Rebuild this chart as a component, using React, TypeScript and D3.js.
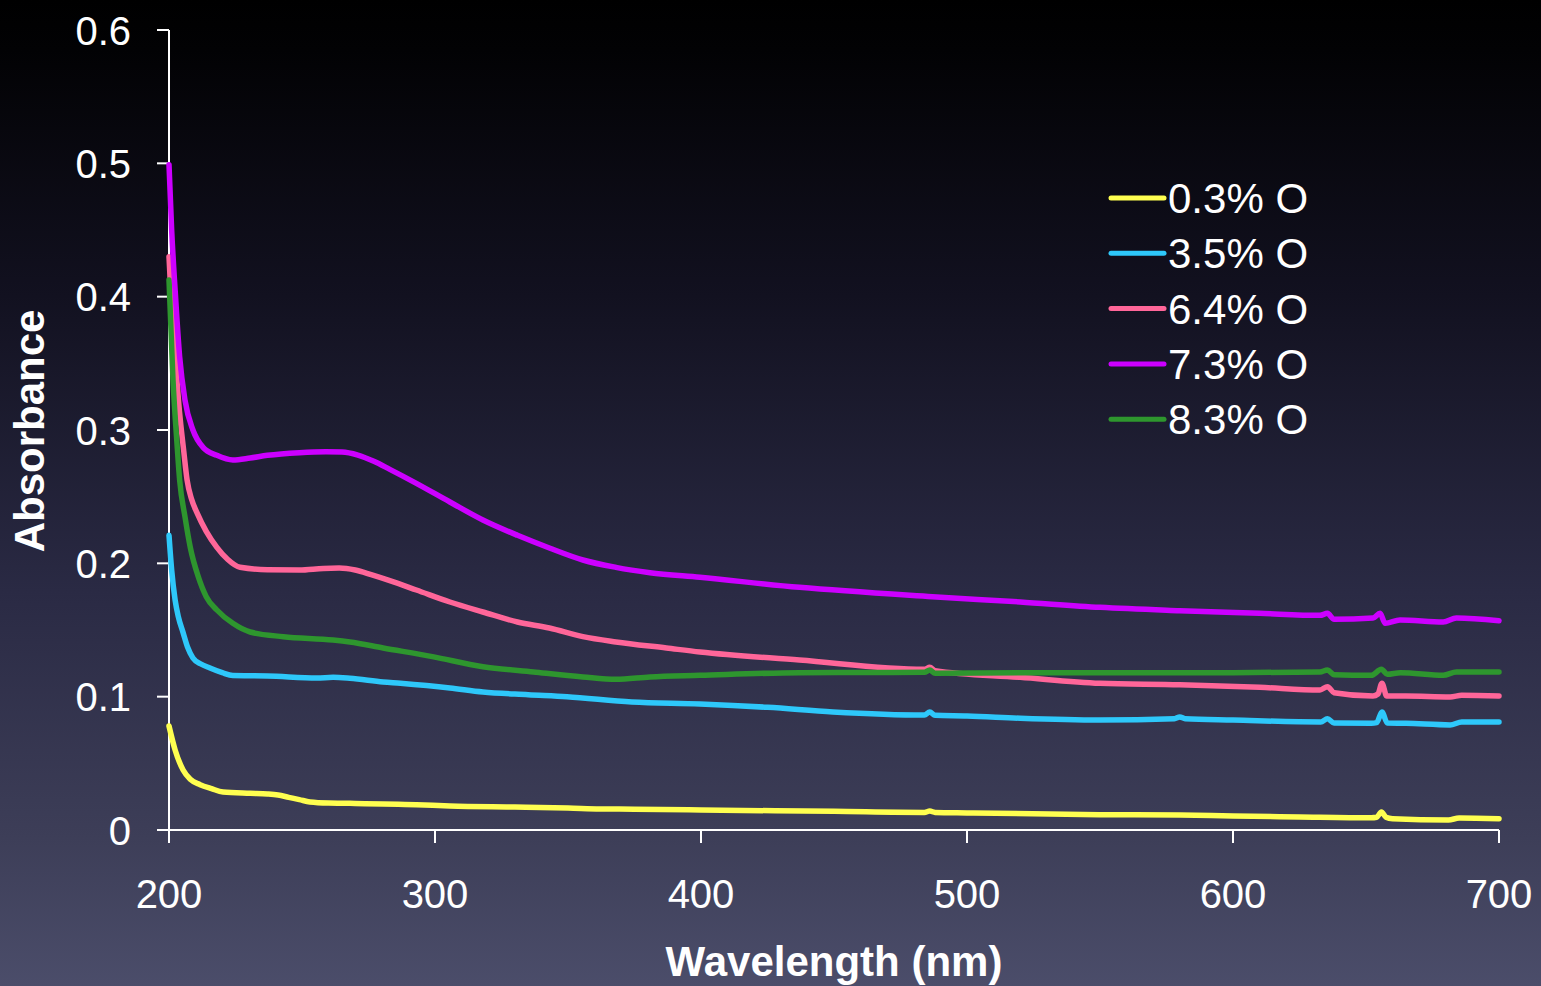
import React from "react";
import * as d3 from "d3";

const xTicks = [200, 300, 400, 500, 600, 700];
const yTicks = [0, 0.1, 0.2, 0.3, 0.4, 0.5, 0.6];
const yTickLabels = ["0", "0.1", "0.2", "0.3", "0.4", "0.5", "0.6"];

const seriesNames = ["0.3% O", "3.5% O", "6.4% O", "7.3% O", "8.3% O"];
const seriesColors = ["#ffff50", "#2ec8fa", "#ff6699", "#cc00ff", "#2e962e"];

// [wavelength nm, absorbance]
const yellow03: [number, number][] = [
  [200, 0.078], [202.3, 0.06], [205.3, 0.045], [208, 0.038], [211.7, 0.034], [216, 0.031], [220.3, 0.0285],
  [230.5, 0.0275], [237, 0.027], [241, 0.0262], [245, 0.0245], [249, 0.0228], [253, 0.021], [260, 0.0202],
  [268, 0.02], [293, 0.019], [305.6, 0.018], [330, 0.0172], [350, 0.0165], [362, 0.0158], [375, 0.0156],
  [400, 0.015], [450, 0.014], [484, 0.0132], [486, 0.0142], [488, 0.0132], [500, 0.0128], [550, 0.0115],
  [580, 0.0112], [600, 0.0105], [625, 0.0098], [652, 0.0092], [654, 0.0096], [655.8, 0.0135],
  [657.5, 0.0096], [660, 0.0085], [681, 0.0075], [685, 0.009], [700, 0.0085],
];

const cyan35: [number, number][] = [
  [200, 0.221], [201, 0.195], [202.3, 0.1725], [203.5, 0.16], [205.3, 0.148], [207, 0.137], [209, 0.129],
  [212, 0.1245], [215.4, 0.1215], [220, 0.118], [224, 0.1158], [237, 0.1155], [255.6, 0.114], [261.7, 0.1145],
  [268, 0.1138], [280.5, 0.111], [287, 0.11], [305.6, 0.1065], [318, 0.1035], [335, 0.1015], [349.6, 0.1],
  [374, 0.096], [399.6, 0.0945], [425, 0.092], [449.6, 0.0885], [484, 0.0862], [486, 0.0885],
  [488, 0.086], [500, 0.0855], [520, 0.0838], [550, 0.0825], [578, 0.0835], [580, 0.0848], [582, 0.0835],
  [600, 0.0825], [633, 0.081], [635.5, 0.0835], [638, 0.0802], [652, 0.08], [654, 0.0805], [656, 0.0885],
  [658, 0.0802], [665, 0.08], [681.6, 0.0788], [686, 0.081], [700, 0.081],
];

const pink64: [number, number][] = [
  [200, 0.43], [201, 0.39], [202.5, 0.35], [204, 0.3125], [205.5, 0.285], [206.8, 0.2625], [208.5, 0.248],
  [210.5, 0.238], [214, 0.224], [218, 0.212], [222, 0.203], [226.7, 0.197], [237, 0.1952], [249, 0.195],
  [258, 0.1962], [264, 0.1965], [270, 0.195], [276, 0.1915], [283, 0.187], [293, 0.18], [305.6, 0.171],
  [318, 0.1635], [331, 0.156], [343, 0.1515], [355.6, 0.145], [368, 0.141], [387, 0.1365], [399.6, 0.1335],
  [437, 0.1275], [484, 0.1205], [486, 0.122], [488, 0.1195], [520, 0.1145], [550, 0.11], [580, 0.109],
  [610, 0.107], [632.7, 0.105], [635.5, 0.1075], [638, 0.103], [652.6, 0.1005], [654.5, 0.102], [656, 0.11],
  [657.8, 0.1005], [665, 0.1005], [681.6, 0.0998], [686, 0.101], [700, 0.1005],
];

const magenta73: [number, number][] = [
  [200, 0.499], [201, 0.45], [202.3, 0.405], [204, 0.355], [206, 0.3225], [209, 0.3], [212.8, 0.287],
  [218, 0.281], [224, 0.2775], [230.5, 0.279], [237, 0.281], [249, 0.283], [259, 0.2837], [265, 0.2835],
  [271, 0.2812], [277, 0.2765], [283, 0.2705], [293, 0.26], [305.6, 0.246], [318, 0.2325], [331, 0.221],
  [343, 0.2115], [355.6, 0.2025], [368, 0.197], [380.8, 0.193], [399.6, 0.1895], [437, 0.182], [487, 0.175],
  [520, 0.171], [550, 0.167], [580, 0.1645], [610, 0.1625], [632.7, 0.161], [635.5, 0.1625],
  [638, 0.158], [652.6, 0.159], [655.3, 0.1625], [657.2, 0.155], [662.8, 0.1575], [679, 0.156],
  [684, 0.159], [700, 0.157],
];

const green83: [number, number][] = [
  [200, 0.4125], [201.5, 0.3375], [203, 0.29], [204, 0.2625], [206, 0.235], [208, 0.212], [211, 0.19],
  [214, 0.175], [218, 0.165], [224, 0.155], [230.5, 0.1485], [243, 0.145], [261.7, 0.1425], [268, 0.141],
  [280.5, 0.1365], [299, 0.13], [318, 0.1225], [337, 0.1185], [355.6, 0.1148], [368, 0.113],
  [380.8, 0.1148], [399.6, 0.116], [437, 0.118], [484, 0.1183], [486, 0.12], [488, 0.1175],
  [520, 0.118], [550, 0.118], [600, 0.118], [632.7, 0.1185], [635.5, 0.12], [638, 0.1165],
  [652, 0.116], [655.8, 0.1205], [658, 0.1168], [663, 0.118], [679, 0.116], [684, 0.1185], [700, 0.1185],
];

const seriesData = [yellow03, cyan35, pink64, magenta73, green83];
const drawOrder = [0, 1, 2, 4, 3];

const W = 1541;
const H = 986;
const FONT = "'Liberation Sans', Arial, Helvetica, sans-serif";

export default function App() {
  const x = d3.scaleLinear().domain([200, 700]).range([169, 1499]);
  const y = d3.scaleLinear().domain([0, 0.6]).range([830, 30]);
  const line = d3
    .line<[number, number]>()
    .x((d) => x(d[0]))
    .y((d) => y(d[1]))
    .curve(d3.curveMonotoneX);

  const legendX1 = 1111;
  const legendX2 = 1164;
  const legendY0 = 198;
  const legendStep = 55.3;

  return (
    <svg
      width={W}
      height={H}
      viewBox={`0 0 ${W} ${H}`}
      style={{ position: "fixed", left: 0, top: 0, display: "block" }}
    >
      <defs>
        <linearGradient id="bg" x1="0" y1="0" x2="0" y2="1">
          <stop offset="0" stopColor="#000000" />
          <stop offset="0.05" stopColor="#020204" />
          <stop offset="0.3" stopColor="#121120" />
          <stop offset="0.6" stopColor="#2a2a44" />
          <stop offset="0.85" stopColor="#3d3e58" />
          <stop offset="1" stopColor="#4b4d6a" />
        </linearGradient>
      </defs>
      <rect x={0} y={0} width={W} height={H} fill="url(#bg)" />

      {/* axes */}
      <line x1={x(200)} x2={x(200)} y1={y(0.6)} y2={y(0)} stroke="#fff" strokeWidth={2} />
      <line x1={x(200)} x2={x(700)} y1={y(0)} y2={y(0)} stroke="#fff" strokeWidth={2} />
      {yTicks.map((t, i) => (
        <g key={"yt" + i}>
          <line x1={157} x2={x(200)} y1={y(t)} y2={y(t)} stroke="#fff" strokeWidth={2} />
          <text
            x={131}
            y={y(t) + 14.5}
            textAnchor="end"
            fill="#fff"
            fontFamily={FONT}
            fontSize={40}
          >
            {yTickLabels[i]}
          </text>
        </g>
      ))}
      {xTicks.map((t) => (
        <g key={"xt" + t}>
          <line x1={x(t)} x2={x(t)} y1={y(0)} y2={843} stroke="#fff" strokeWidth={2} />
          <text
            x={x(t)}
            y={908}
            textAnchor="middle"
            fill="#fff"
            fontFamily={FONT}
            fontSize={40}
          >
            {t}
          </text>
        </g>
      ))}

      {/* series */}
      {drawOrder.map((i) => (
        <path
          key={"s" + i}
          d={line(seriesData[i]) || ""}
          fill="none"
          stroke={seriesColors[i]}
          strokeWidth={5.5}
          strokeLinejoin="round"
          strokeLinecap="round"
        />
      ))}

      {/* legend */}
      {seriesNames.map((n, i) => (
        <g key={"lg" + i}>
          <line
            x1={legendX1}
            x2={legendX2}
            y1={legendY0 + i * legendStep}
            y2={legendY0 + i * legendStep}
            stroke={seriesColors[i]}
            strokeWidth={5}
            strokeLinecap="round"
          />
          <text
            x={1168}
            y={legendY0 + i * legendStep + 15}
            fill="#fff"
            fontFamily={FONT}
            fontSize={42}
          >
            {n}
          </text>
        </g>
      ))}

      {/* axis titles */}
      <text
        x={834}
        y={976}
        textAnchor="middle"
        fill="#fff"
        fontFamily={FONT}
        fontSize={42}
        fontWeight="bold"
      >
        Wavelength (nm)
      </text>
      <text
        transform={`translate(44, 431) rotate(-90)`}
        textAnchor="middle"
        fill="#fff"
        fontFamily={FONT}
        fontSize={42}
        fontWeight="bold"
      >
        Absorbance
      </text>
    </svg>
  );
}
